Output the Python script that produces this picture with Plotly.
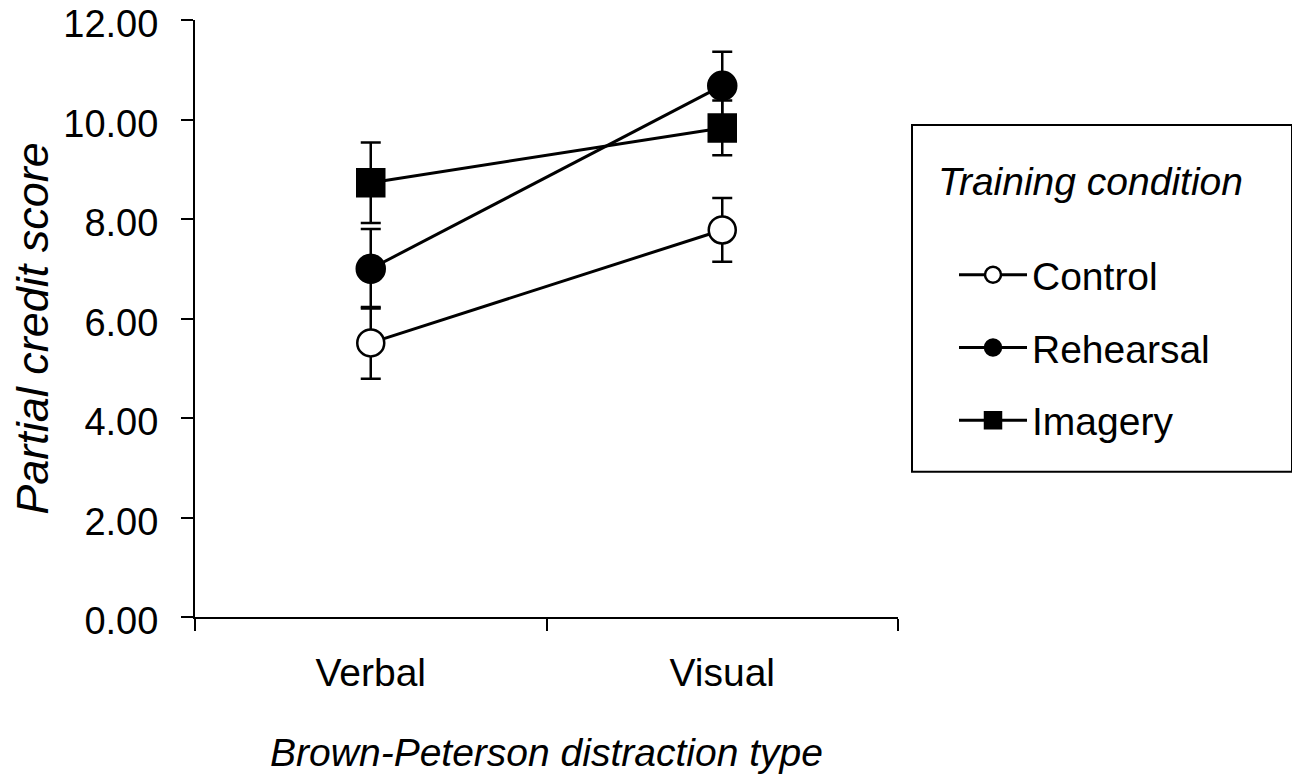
import plotly.graph_objects as go

distraction_types = ['Verbal', 'Visual']

control_mean = [5.51, 7.78]
control_err = [0.72, 0.64]
rehearsal_mean = [7.00, 10.68]
rehearsal_err = [0.80, 0.68]
imagery_mean = [8.73, 9.83]
imagery_err = [0.81, 0.55]

series = [
    ('Control', control_mean, control_err, 'circle', 'white', 27),
    ('Rehearsal', rehearsal_mean, rehearsal_err, 'circle', 'black', 28),
    ('Imagery', imagery_mean, imagery_err, 'square', 'black', 27),
]

font_family = 'Liberation Sans, Arial, sans-serif'

fig = go.Figure()
for name, mean, err, symbol, fill, size in series:
    fig.add_trace(go.Scatter(
        x=distraction_types, y=mean, name=name, legendgroup=name,
        mode='lines+markers',
        line=dict(color='black', width=3),
        marker=dict(symbol=symbol, size=size, color=fill,
                    line=dict(color='black', width=2.5)),
        error_y=dict(type='data', array=err, color='black', thickness=2.5, width=10),
    ))

# plot area on screen: x 195..898 px, y 20..617 px (page body adds 8px offset)
def px_x(p):
    return (p - 195) / 703

def px_y(p):
    return (617.3 - p) / 597.3

fig.update_layout(
    width=1300, height=781,
    margin=dict(l=187, r=410, t=12, b=172),
    paper_bgcolor='white', plot_bgcolor='white',
    font=dict(family=font_family, size=38, color='black'),
    showlegend=True,
    legend=dict(
        x=px_x(954), y=px_y(243), xanchor='left', yanchor='top',
        font=dict(size=39), itemwidth=68, tracegroupgap=19,
        traceorder='grouped', bgcolor='rgba(0,0,0,0)',
    ),
    xaxis=dict(
        type='category', range=[-0.5, 1.5], tickson='boundaries',
        showline=True, linecolor='black', linewidth=2,
        ticks='outside', ticklen=12, tickwidth=2, tickcolor='black',
        showgrid=False, zeroline=False, ticklabelstandoff=20, automargin=False,
        tickfont=dict(size=39),
        title=dict(text='<i>Brown-Peterson distraction type</i>', standoff=46,
                   font=dict(size=39)),
    ),
    yaxis=dict(
        range=[0, 12], dtick=2, tickformat='.2f',
        showline=True, linecolor='black', linewidth=2,
        ticks='outside', ticklen=12, tickwidth=2, tickcolor='black',
        showgrid=False, zeroline=False, ticklabelstandoff=15, automargin=False,
        ticklabeloverflow='allow', ticklabelshift=4, tickfont=dict(size=38),
    ),
    shapes=[dict(
        type='rect', xref='paper', yref='paper',
        x0=px_x(912), x1=px_x(1292), y0=px_y(472), y1=px_y(125),
        line=dict(color='black', width=2), fillcolor='rgba(0,0,0,0)',
    )],
    annotations=[
        dict(
            text='<i>Training condition</i>', xref='paper', yref='paper',
            x=px_x(936), y=px_y(182), xanchor='left', yanchor='middle',
            showarrow=False, font=dict(size=39),
        ),
        dict(
            text='<i>Partial credit score</i>', xref='paper', yref='paper',
            x=px_x(33), y=px_y(329), xanchor='center', yanchor='middle',
            textangle=-90, showarrow=False, font=dict(size=45),
        ),
    ],
)

fig.write_html('out.html')
